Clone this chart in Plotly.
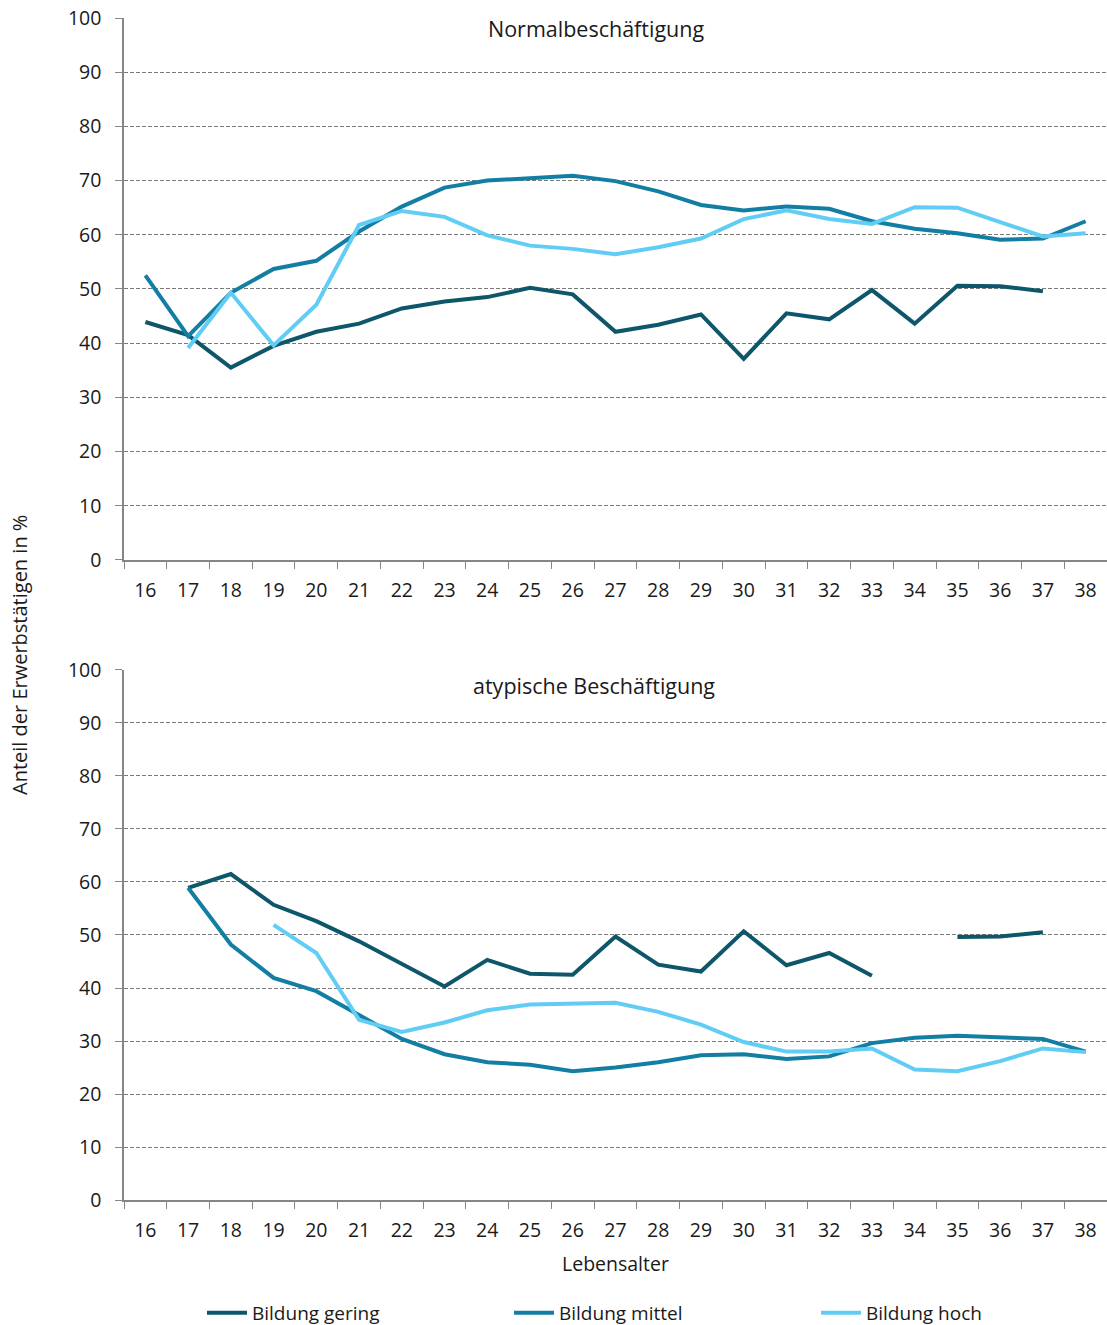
import plotly.graph_objects as go
from plotly.subplots import make_subplots

ages = [str(a) for a in range(16, 39)]

# Normalbeschäftigung
normal_gering = [43.9, 41.5, 35.5, 39.5, 42.1, 43.6, 46.4, 47.7, 48.5, 50.2, 49.0, 42.1,
                 43.4, 45.3, 37.1, 45.5, 44.4, 49.8, 43.6, 50.6, 50.5, 49.6, None]
normal_mittel = [52.5, 41.3, 49.3, 53.7, 55.2, 60.6, 65.2, 68.7, 70.0, 70.5, 70.9, 69.9,
                 68.0, 65.5, 64.5, 65.2, 64.8, 62.5, 61.1, 60.3, 59.1, 59.3, 62.5]
normal_hoch = [None, 39.1, 49.3, 39.6, 47.1, 61.8, 64.4, 63.3, 59.9, 58.0, 57.4, 56.4,
               57.7, 59.3, 62.9, 64.5, 62.9, 62.0, 65.1, 65.0, 62.3, 59.7, 60.3]

# atypische Beschäftigung
atyp_gering = [None, 58.9, 61.5, 55.7, 52.6, 48.8, 44.6, 40.3, 45.3, 42.7, 42.5, 49.7,
               44.4, 43.1, 50.7, 44.3, 46.6, 42.3, None, 49.6, 49.7, 50.5, None]
atyp_mittel = [None, 58.9, 48.2, 41.9, 39.4, 34.9, 30.4, 27.5, 26.0, 25.5, 24.3, 25.0,
               26.0, 27.3, 27.5, 26.6, 27.1, 29.6, 30.6, 31.0, 30.7, 30.4, 28.0]
atyp_hoch = [None, None, None, 51.9, 46.6, 34.0, 31.7, 33.5, 35.8, 36.9, 37.0, 37.2,
             35.5, 33.1, 29.8, 28.0, 28.0, 28.6, 24.6, 24.3, 26.2, 28.6, 27.9]

series_names = ["Bildung gering", "Bildung mittel", "Bildung hoch"]
colors = ["#0E566A", "#137EA3", "#62CDF4"]

FONT = "Open Sans"
fig = make_subplots(rows=2, cols=1)

for i, (name, vals) in enumerate(zip(series_names, [normal_gering, normal_mittel, normal_hoch])):
    fig.add_trace(go.Scatter(x=ages, y=vals, mode="lines", name=name,
                             line=dict(color=colors[i], width=4), connectgaps=False,
                             showlegend=True, legendgroup=name), row=1, col=1)
for i, (name, vals) in enumerate(zip(series_names, [atyp_gering, atyp_mittel, atyp_hoch])):
    fig.add_trace(go.Scatter(x=ages, y=vals, mode="lines", name=name,
                             line=dict(color=colors[i], width=4), connectgaps=False,
                             showlegend=False, legendgroup=name), row=2, col=1)

axis_col = "#868686"
for r in (1, 2):
    fig.update_xaxes(type="category", categoryorder="array", categoryarray=ages,
                     range=[-0.5, 22.5], tickson="boundaries", ticks="outside",
                     ticklen=7, tickcolor=axis_col, showline=True, linecolor=axis_col,
                     linewidth=1.5, showgrid=False, zeroline=False, automargin=False,
                     ticklabelstandoff=12,
                     tickfont=dict(family=FONT, size=19.5, color="#1a1a1a"), row=r, col=1)
    fig.update_yaxes(range=[0, 100], dtick=10, tick0=0, ticks="outside", ticklen=7,
                     tickcolor=axis_col, showline=True, linecolor=axis_col, linewidth=1.5,
                     showgrid=True, gridcolor="#7a7a7a", griddash="4px,2px", gridwidth=1,
                     zeroline=False, automargin=False, ticklabelstandoff=10,
                     tickfont=dict(family=FONT, size=19.5, color="#1a1a1a"),
                     row=r, col=1)

fig.update_layout(
    yaxis=dict(domain=[0.5415, 1.0]),
    yaxis2=dict(domain=[0.0, 0.4484]),
    width=1107, height=1325,
    margin=dict(l=124, r=0, t=18, b=125, autoexpand=False),
    plot_bgcolor="white", paper_bgcolor="white",
    font=dict(family=FONT, size=19, color="#1a1a1a"),
    legend=dict(orientation="h", xref="container", yref="container",
                x=202 / 1107, y=1 - 1313 / 1325, xanchor="left", yanchor="middle",
                entrywidth=252, font=dict(family=FONT, size=19), itemwidth=40),
    annotations=[
        dict(text="Normalbeschäftigung", x=0.480, y=0.9907, xref="paper", yref="paper",
             xanchor="center", yanchor="middle",
             showarrow=False, font=dict(family=FONT, size=21.5)),
        dict(text="atypische Beschäftigung", x=0.478, y=0.4357, xref="paper", yref="paper",
             xanchor="center", yanchor="middle",
             showarrow=False, font=dict(family=FONT, size=21.5)),
        dict(text="Anteil der Erwerbstätigen in %", x=-104 / 983, y=(1200 - 655) / 1182,
             xref="paper", yref="paper", xanchor="center", yanchor="middle",
             showarrow=False, textangle=-90, font=dict(family=FONT, size=20)),
        dict(text="Lebensalter", x=(615 - 124) / 983, y=-63 / 1182, xref="paper", yref="paper",
             xanchor="center", yanchor="middle",
             showarrow=False, font=dict(family=FONT, size=19.5)),
    ],
)

fig.write_html("out.html", config={"displayModeBar": False},
               post_script="document.body.style.margin='0';")
